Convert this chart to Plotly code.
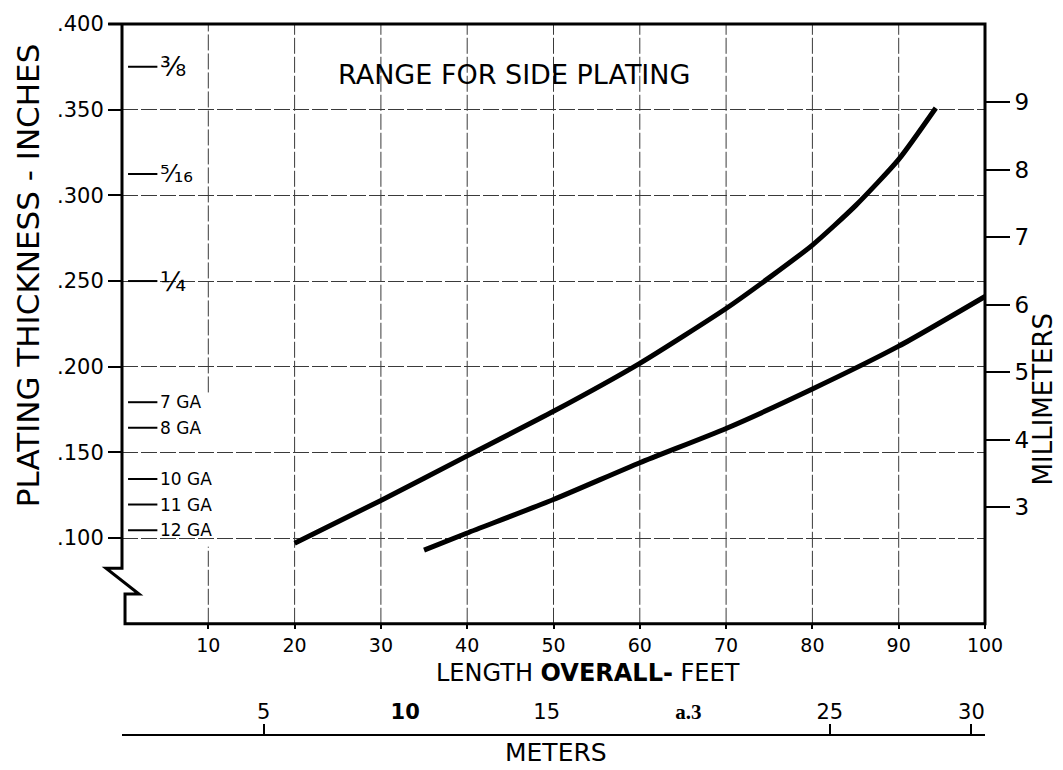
import plotly.graph_objects as go

# ---- data -------------------------------------------------------------
# Upper limit of the recommended side-plating thickness (inches) vs LOA (ft)
upper_loa = [20, 30, 40, 50, 60, 70, 75, 80, 85, 90, 94.3]
upper_thk = [0.097, 0.122, 0.148, 0.174, 0.202, 0.234, 0.252, 0.271, 0.294, 0.321, 0.351]

# Lower limit
lower_loa = [35, 40, 50, 60, 70, 80, 90, 100]
lower_thk = [0.093, 0.103, 0.1225, 0.144, 0.164, 0.187, 0.212, 0.241]

# Standard plate sizes marked on the thickness scale
gauge_names = ["⅜", "⁵⁄₁₆", "¼", "7 GA", "8 GA", "10 GA", "11 GA", "12 GA"]
gauge_sizes = [27, 24, 27, 17, 17, 17, 17, 17]
gauge_thk = [0.375, 0.3125, 0.250, 0.1793, 0.1644, 0.1345, 0.1196, 0.1046]

# Axis ticks
inch_ticks = [0.100, 0.150, 0.200, 0.250, 0.300, 0.350, 0.400]
inch_labels = [".100", ".150", ".200", ".250", ".300", ".350", ".400"]
ft_ticks = [10, 20, 30, 40, 50, 60, 70, 80, 90, 100]
mm_ticks = [3, 4, 5, 6, 7, 8, 9]
m_label_vals = [5, 10, 15, 20, 25, 30]
m_label_text = ["5", "<b>10</b>", "15",
                "<b><span style='font-family:Liberation Serif'>a.3</span></b>",
                "25", "30"]
m_tick_vals = [5, 25, 30]

MM_PER_IN = 25.4
FT_PER_M = 3.28084
X_RANGE = [0, 100]
Y_RANGE = [0.05, 0.40]
Y_DOMAIN = [0.1623, 1.0]

FONT = "DejaVu Sans"
INK = "black"
GRID = "#3a3a3a"


def py(px):
    """paper y for a pixel row (paper spans rows 19..740)"""
    return (740 - px) / 721


def px_(px):
    """paper x for a pixel column (plot spans columns 122..985)"""
    return (px - 122) / 863


fig = go.Figure()

# thickness curves
fig.add_trace(go.Scatter(x=upper_loa, y=upper_thk, mode="lines",
                         line=dict(color=INK, width=5, shape="spline", smoothing=0.6),
                         showlegend=False, hoverinfo="skip"))
fig.add_trace(go.Scatter(x=lower_loa, y=lower_thk, mode="lines",
                         line=dict(color=INK, width=5, shape="spline", smoothing=0.6),
                         showlegend=False, hoverinfo="skip"))

# short marks for the standard plate sizes
gx, gy = [], []
for t in gauge_thk:
    gx += [0.7, 4.1, None]
    gy += [t, t, None]
fig.add_trace(go.Scatter(x=gx, y=gy, mode="lines", line=dict(color=INK, width=2),
                         showlegend=False, hoverinfo="skip"))

# millimetre scale: same axis expressed in mm
fig.add_trace(go.Scatter(x=[None], y=[None], yaxis="y2", showlegend=False))
# metre scale below the chart
fig.add_trace(go.Scatter(x=[None], y=[None], xaxis="x2", showlegend=False))
fig.add_trace(go.Scatter(x=[None], y=[None], xaxis="x3", showlegend=False))

shapes = []
# vertical grid lines (the 10 ft line is interrupted by the gauge labels)
for v in ft_ticks[:-1]:
    segs = [(0.05, 0.095), (0.185, 0.40)] if v == 10 else [(0.05, 0.40)]
    for y0, y1 in segs:
        shapes.append(dict(type="line", xref="x", yref="y", x0=v, x1=v, y0=y0, y1=y1,
                           line=dict(color=GRID, width=1, dash="16px,3px"), layer="below"))

# frame with the broken thickness axis at the lower left
shapes.append(dict(type="path", xref="paper", yref="paper",
                   path="M -0.016,1 L 1,1 L 1,0.1623 L 0.0035,0.1623 L 0.0035,0.2039 "
                        "L 0.0197,0.2039 L -0.0185,0.2399 L 0,0.2399 L 0,1",
                   line=dict(color=INK, width=3)))

annotations = []
for name, size, t in zip(gauge_names, gauge_sizes, gauge_thk):
    annotations.append(dict(x=4.2, y=t, xref="x", yref="y", text=name, showarrow=False,
                            xanchor="left", yanchor="middle",
                            font=dict(family=FONT, size=size, color=INK)))

centered = dict(showarrow=False, xanchor="center", yanchor="middle")
annotations += [
    dict(x=45.4, y=0.3704, xref="x", yref="y", text="RANGE FOR SIDE PLATING",
         font=dict(family=FONT, size=27, color=INK), **centered),
    dict(x=px_(28), y=py(272), xref="paper", yref="paper",
         text="PLATING THICKNESS - INCHES", textangle=-90,
         font=dict(family=FONT, size=31, color=INK), **centered),
    dict(x=px_(1043), y=py(397), xref="paper", yref="paper", text="MILLIMETERS",
         textangle=-90, font=dict(family=FONT, size=26, color=INK), **centered),
    dict(x=px_(588), y=py(673), xref="paper", yref="paper",
         text="LENGTH <b>OVERALL-</b> FEET",
         font=dict(family=FONT, size=24, color=INK), **centered),
    dict(x=px_(556), y=py(753), xref="paper", yref="paper", text="METERS",
         font=dict(family=FONT, size=25, color=INK), **centered),
]

fig.update_layout(
    width=1063, height=770,
    margin=dict(l=122, r=78, t=19, b=30),
    paper_bgcolor="white", plot_bgcolor="white",
    font=dict(family=FONT, color=INK),
    shapes=shapes, annotations=annotations,
    xaxis=dict(range=X_RANGE, tickvals=ft_ticks, showgrid=False, zeroline=False,
               showline=False, ticks="outside", ticklen=4, tickwidth=2, tickcolor=INK,
               tickfont=dict(size=19), anchor="y"),
    yaxis=dict(range=Y_RANGE, domain=Y_DOMAIN, tickvals=inch_ticks, ticktext=inch_labels,
               showgrid=True, gridcolor=GRID, gridwidth=1, griddash="16px,3px",
               zeroline=False, showline=False, ticks="outside", ticklen=13, tickwidth=2,
               tickcolor=INK, tickfont=dict(size=21)),
    yaxis2=dict(range=[Y_RANGE[0] * MM_PER_IN, Y_RANGE[1] * MM_PER_IN], domain=Y_DOMAIN,
                overlaying="y", side="right", anchor="x", tickvals=mm_ticks,
                showgrid=False, zeroline=False, showline=False, ticks="outside",
                ticklen=24, tickwidth=2, tickcolor=INK, tickfont=dict(size=23)),
    xaxis2=dict(range=[X_RANGE[0] / FT_PER_M, X_RANGE[1] / FT_PER_M], overlaying="x",
                anchor="free", position=py(735), side="top",
                tickvals=m_label_vals, ticktext=m_label_text, ticks="",
                ticklabelstandoff=7, showgrid=False, zeroline=False,
                showline=True, linecolor=INK, linewidth=2, tickfont=dict(size=21)),
    xaxis3=dict(range=[X_RANGE[0] / FT_PER_M, X_RANGE[1] / FT_PER_M], overlaying="x",
                anchor="free", position=py(735), side="top",
                tickvals=m_tick_vals, showticklabels=False, ticks="outside",
                ticklen=11, tickwidth=2, tickcolor=INK, showgrid=False,
                zeroline=False, showline=False),
)

fig.write_html("out.html")
